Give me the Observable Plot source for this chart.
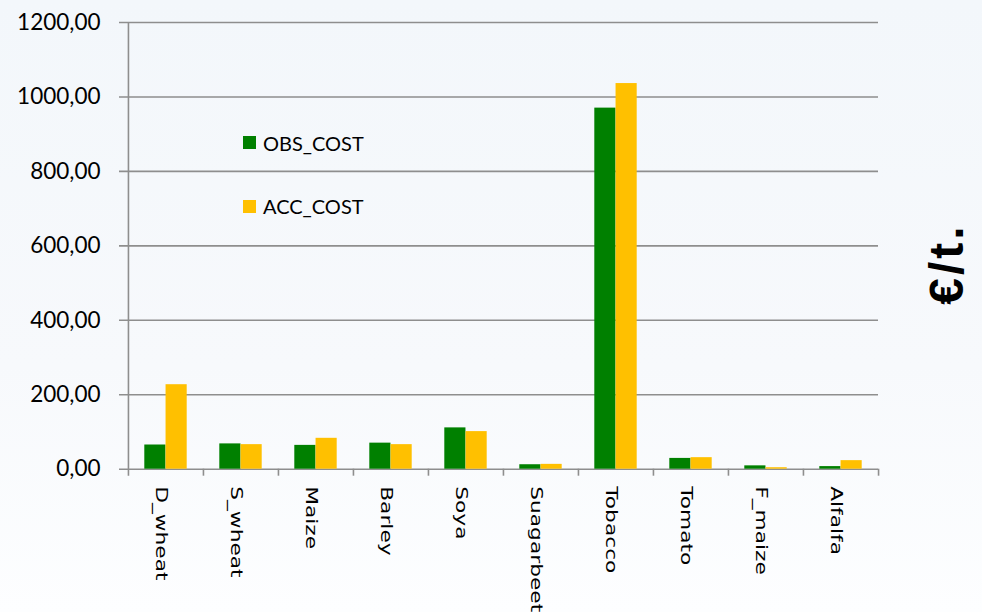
<!DOCTYPE html>
<html>
<head>
<meta charset="utf-8">
<script src="https://cdn.jsdelivr.net/npm/d3@7"></script>
<script src="https://cdn.jsdelivr.net/npm/@observablehq/plot@0.6"></script>
<style>
html, body { margin: 0; padding: 0; }
body { width: 982px; height: 612px; overflow: hidden; position: relative;
  background: linear-gradient(to bottom, #f3f7fb 0%, #f7f9fc 60%, #fdfeff 100%); }
#chart { position: absolute; left: 0; top: 0; }
.legend { position: absolute; font-family: Lato, "Open Sans", sans-serif; font-size: 20px; color: #000;
  display: flex; align-items: center; line-height: 1; white-space: nowrap; }
.legend .sw { display: inline-block; width: 13px; height: 13px; margin-right: 7px; }
#unit { position: absolute; left: 947px; top: 264px; transform: translate(-50%, -50%) rotate(-90deg);
  font-family: "Liberation Sans", Arial, sans-serif; font-weight: bold; font-size: 48px; color: #000;
  letter-spacing: 3px; white-space: nowrap; line-height: 1; }
</style>
</head>
<body>
<div id="chart"></div>
<div id="legend"></div>
<div id="unit">€/t.</div>
<script>
const crops = ["D_wheat", "S_wheat", "Maize", "Barley", "Soya", "Suagarbeet", "Tobacco", "Tomato", "F_maize", "Alfalfa"];
const obsCost = [65, 68, 64, 70, 111, 12, 970, 29, 9, 7];
const accCost = [227, 66, 83, 66, 101, 13, 1036, 31, 4, 23];
const seriesNames = ["OBS_COST", "ACC_COST"];
const seriesColors = ["#008000", "#FFC000"];
const yTicks = [0, 200, 400, 600, 800, 1000, 1200];

const W = 982, H = 612;
const mL = 127, mR = 104, mT = 22, mB = 143.3;
const bw = (W - mL - mR) / crops.length;
const axisColor = "#8e8e8e";

const obsData = crops.map((c, i) => ({crop: c, value: obsCost[i]}));
const accData = crops.map((c, i) => ({crop: c, value: accCost[i]}));

const chart = Plot.plot({
  width: W, height: H,
  marginLeft: mL, marginRight: mR, marginTop: mT, marginBottom: mB,
  style: {background: "transparent", overflow: "visible"},
  x: {type: "band", domain: crops, padding: 0, axis: null},
  y: {domain: [0, 1200], axis: null},
  marks: [
    Plot.ruleY(yTicks, {y: d => d, stroke: axisColor, strokeWidth: 1.6, insetLeft: -8}),
    Plot.ruleX([crops[0]], {x: d => d, y1: 1200, y2: 0, dx: -bw / 2, stroke: axisColor, strokeWidth: 1.6, insetBottom: -7}),
    Plot.ruleX(crops.slice(1), {x: d => d, y1: 0, y2: 0, dx: -bw / 2, stroke: axisColor, strokeWidth: 1.6, insetBottom: -7}),
    Plot.ruleX([crops[crops.length - 1]], {x: d => d, y1: 0, y2: 0, dx: bw / 2, stroke: axisColor, strokeWidth: 1.6, insetBottom: -7}),
    Plot.barY(obsData, {x: "crop", y: "value", fill: seriesColors[0], insetLeft: 16.3, insetRight: bw / 2}),
    Plot.barY(accData, {x: "crop", y: "value", fill: seriesColors[1], insetLeft: bw / 2, insetRight: 16.3}),
    Plot.axisY(yTicks, {label: null, tickSize: 0, tickPadding: 27, tickFormat: d => d.toFixed(2).replace(".", ","),
      fontSize: 22.5, fontFamily: "Lato, sans-serif", fill: "#000"}),
    Plot.text(crops, {x: d => d, frameAnchor: "bottom", text: d => d, rotate: 90, textAnchor: "start",
      lineAnchor: "bottom", dx: -10, dy: 17, fontSize: 15, fontFamily: "DejaVu Sans, sans-serif", fill: "#000"})
  ]
});

d3.select(chart).selectAll("text").filter(function () { return crops.includes(this.textContent); })
  .each(function () {
    const t = d3.select(this);
    t.attr("transform", (t.attr("transform") || "") + " scale(1.45,1)");
  });

document.getElementById("chart").appendChild(chart);

const legendPos = [{left: 243, top: 142.5}, {left: 243, top: 206}];
const legend = document.getElementById("legend");
seriesNames.forEach((name, i) => {
  const div = document.createElement("div");
  div.className = "legend";
  div.style.left = legendPos[i].left + "px";
  div.style.top = (legendPos[i].top - 10) + "px";
  div.style.height = "20px";
  const sw = document.createElement("span");
  sw.className = "sw";
  sw.style.background = seriesColors[i];
  const label = document.createElement("span");
  label.textContent = name;
  div.appendChild(sw);
  div.appendChild(label);
  legend.appendChild(div);
});
</script>
</body>
</html>
